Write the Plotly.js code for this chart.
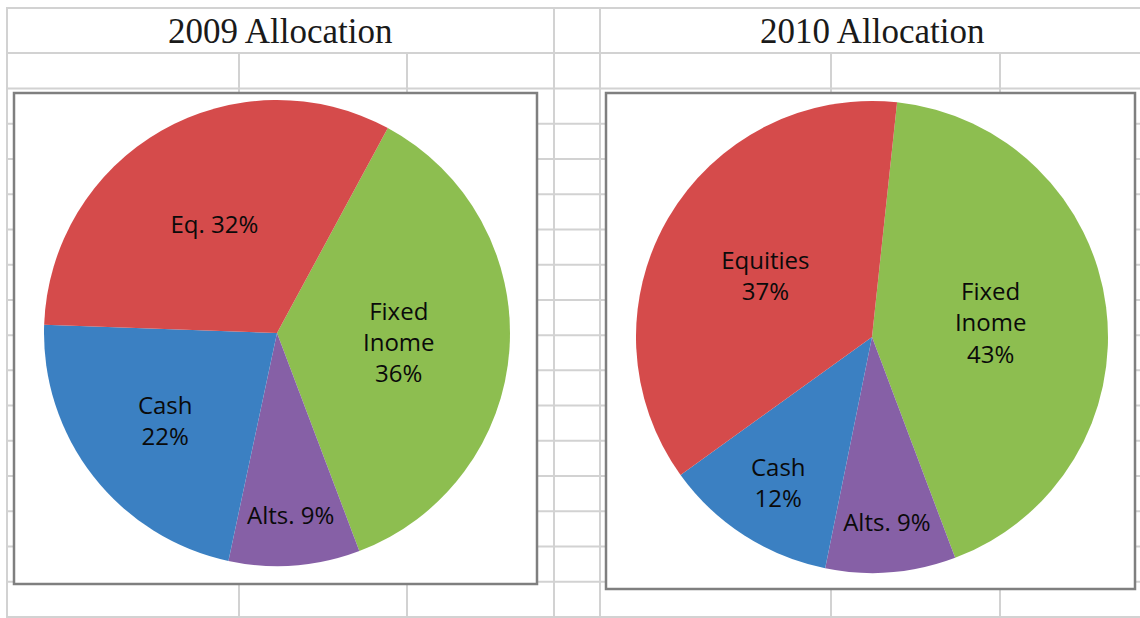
<!DOCTYPE html>
<html>
<head>
<meta charset="utf-8">
<script src="https://cdn.plot.ly/plotly-3.0.1.min.js"></script>
<style>
  html, body { margin: 0; padding: 0; background: #ffffff; }
  #chart { width: 1140px; height: 618px; }
</style>
</head>
<body>
<div id="chart"></div>
<script>
// ---- data ----
const categories = ['Fixed Income', 'Alternatives', 'Cash', 'Equities'];
const values2009 = [36, 9, 22, 32];
const values2010 = [43, 9, 12, 37];
const text2009 = ['Fixed<br>Inome<br>36%', 'Alts. 9%', 'Cash<br>22%', 'Eq. 32%'];
const text2010 = ['Fixed<br>Inome<br>43%', 'Alts. 9%', 'Cash<br>12%', 'Equities<br>37%'];
const chartTitles = ['2009 Allocation', '2010 Allocation'];
const sliceColors = ['#8DBE50', '#8660A6', '#3B80C2', '#D54B4B'];

// ---- page geometry helpers (decoration only) ----
const W = 1140, H = 618;
const px = x => x / W;
const py = y => 1 - y / H;

const gridColor = '#D2D2D2';
const shapes = [];
function hline(y, x0, x1) {
  shapes.push({type: 'line', xref: 'paper', yref: 'paper', layer: 'below',
    x0: px(x0), x1: px(x1), y0: py(y), y1: py(y),
    line: {color: gridColor, width: 2}});
}
function vline(x, y0, y1) {
  shapes.push({type: 'line', xref: 'paper', yref: 'paper', layer: 'below',
    x0: px(x), x1: px(x), y0: py(y0), y1: py(y1),
    line: {color: gridColor, width: 2}});
}
// spreadsheet grid
hline(8, 6, 1140);
hline(53, 6, 1140);
const rowTop = 88.5, rowStep = (617 - 88.5) / 15;
for (let k = 0; k <= 15; k++) hline(rowTop + k * rowStep, 6, 1140);
vline(7, 8, 618);
vline(554, 8, 618);
vline(600, 8, 618);
[239, 407, 831, 1000].forEach(x => vline(x, 53, 618));

// chart boxes
function box(x0, y0, x1, y1) {
  shapes.push({type: 'rect', xref: 'paper', yref: 'paper', layer: 'below',
    x0: px(x0), x1: px(x1), y0: py(y1), y1: py(y0),
    fillcolor: '#ffffff', line: {color: '#7F7F7F', width: 2.5}});
}
box(14, 93, 537, 584);
box(606, 93, 1135, 589);

const pieCommon = {
  type: 'pie',
  labels: categories,
  sort: false,
  direction: 'clockwise',
  textinfo: 'text',
  textposition: 'inside',
  insidetextorientation: 'horizontal',
  hoverinfo: 'label+percent',
  showlegend: false,
  textfont: {family: 'Open Sans, Noto Sans, sans-serif', size: 24, color: '#0a0a0a'},
  marker: {colors: sliceColors, line: {width: 0}}
};

const traces = [
  Object.assign({}, pieCommon, {
    values: values2009,
    text: text2009,
    rotation: 28.4,
    domain: {x: [px(44), px(510)], y: [py(566), py(100)]}
  }),
  Object.assign({}, pieCommon, {
    values: values2010,
    text: text2010,
    rotation: 6.1,
    domain: {x: [px(636), px(1108)], y: [py(573), py(101)]}
  })
];

const annotations = [
  {text: chartTitles[0], x: px(280), y: py(31)},
  {text: chartTitles[1], x: px(872), y: py(31)}
].map(a => Object.assign(a, {
  xref: 'paper', yref: 'paper', xanchor: 'center', yanchor: 'middle',
  showarrow: false,
  font: {family: 'Liberation Serif, DejaVu Serif, serif', size: 35, color: '#1a1a1a'}
}));

const layout = {
  width: W, height: H,
  margin: {l: 0, r: 0, t: 0, b: 0},
  paper_bgcolor: '#ffffff',
  plot_bgcolor: '#ffffff',
  shapes: shapes,
  annotations: annotations
};

Plotly.newPlot('chart', traces, layout, {displayModeBar: false, staticPlot: true});
</script>
</body>
</html>
